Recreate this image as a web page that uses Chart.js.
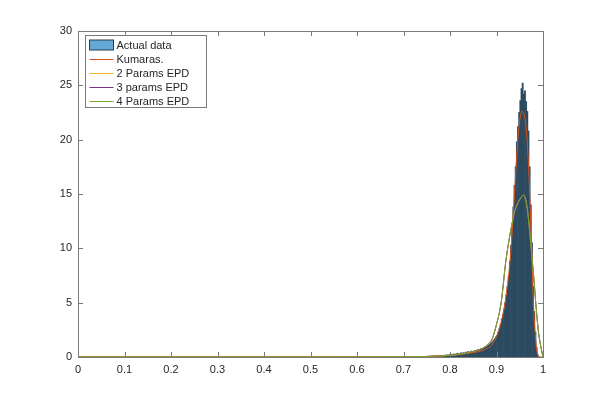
<!DOCTYPE html>
<html>
<head>
<meta charset="utf-8">
<title>Histogram and fitted densities</title>
<script src="https://cdn.jsdelivr.net/npm/chart.js@4.4.1/dist/chart.umd.min.js"></script>
<style>
  html, body { margin: 0; padding: 0; background: #fff; overflow: hidden; }
  #wrap { width: 601px; height: 401px; }
</style>
</head>
<body>
<div id="wrap"><canvas id="chartHist" width="601" height="401"></canvas></div>
<script>
// ---- data ----
const binStart = 0.75;
const binWidth = 0.0025;
// histogram heights (density), one per bin from 0.75 to 0.99
const histValues = [
    0.05, 0.08, 0.04, 0.10, 0.06, 0.09, 0.12, 0.07, 0.10, 0.08,
    0.13, 0.10, 0.15, 0.09, 0.12, 0.18, 0.14, 0.20, 0.16, 0.22,
    0.20, 0.25, 0.18, 0.30, 0.22, 0.28, 0.35, 0.25, 0.30, 0.38,
    0.32, 0.40, 0.35, 0.45, 0.38, 0.50, 0.42, 0.48, 0.55, 0.50,
    0.55, 0.60, 0.58, 0.65, 0.70, 0.66, 0.75, 0.80, 0.78, 0.85,
    0.90, 0.95, 1.05, 1.10, 1.20, 1.30, 1.40, 1.55, 1.70, 1.85,
    2.00, 2.30, 2.60, 3.00, 3.50, 3.90, 4.40, 5.00, 5.70, 6.50,
    7.50, 8.80, 10.3, 12.0, 13.8, 15.8, 17.5, 19.8, 21.2, 22.5,
    23.6, 24.7, 25.2, 24.2, 24.5, 23.5, 22.6, 20.8, 17.5, 14.0,
    10.5, 6.50, 4.20, 2.30, 0.90, 0.20
];

// fitted curves, sampled where they could be read
const kumX = [0, 0.5, 0.7, 0.8, 0.85, 0.87, 0.88, 0.89, 0.90, 0.91, 0.92, 0.93, 0.94, 0.945, 0.95, 0.955, 0.96, 0.965, 0.97, 0.975, 0.98, 0.985, 0.99, 1.0];
const kumY = [0, 0, 0.02, 0.15, 0.40, 0.60, 0.80, 1.10, 1.90, 3.20, 5.50, 9.30, 16.0, 19.5, 21.8, 22.6, 22.2, 20.5, 16.5, 10.5, 4.5, 1.2, 0.1, 0];

const epdX = [0, 0.5, 0.7, 0.8, 0.85, 0.87, 0.88, 0.89, 0.90, 0.91, 0.92, 0.93, 0.94, 0.95, 0.958, 0.965, 0.97, 0.975, 0.98, 0.984, 0.99, 0.997, 1.0];
const epd4Y = [0, 0, 0.03, 0.15, 0.50, 0.80, 1.10, 1.60, 3.00, 5.00, 8.80, 11.5, 13.5, 14.5, 14.9, 14.0, 12.2, 9.80, 7.40, 5.20, 2.40, 0.60, 0];
const epd2Y = [0, 0, 0.03, 0.15, 0.50, 0.80, 1.10, 1.60, 3.00, 5.00, 8.80, 11.5, 13.5, 14.5, 14.9, 14.0, 12.2, 9.80, 7.40, 5.20, 2.40, 0.60, 0];
const epd3Y = [0, 0, 0.03, 0.15, 0.50, 0.80, 1.10, 1.60, 3.00, 5.00, 8.80, 11.5, 13.5, 14.5, 14.9, 14.0, 12.2, 9.80, 7.40, 5.20, 2.40, 0.60, 0];

const seriesLabels = ['Actual data', 'Kumaras.', '2 Params EPD', '3 params EPD', '4 Params EPD'];
const xTicks = [0, 0.1, 0.2, 0.3, 0.4, 0.5, 0.6, 0.7, 0.8, 0.9, 1];
const yTicks = [0, 5, 10, 15, 20, 25, 30];

// colores estilo MATLAB
const colHist = '#2c4a60';
const colHistLegend = '#64a8d8';
const colKum = '#D95319';
const colEpd2 = '#EDB120';
const colEpd3 = '#7E2F8E';
const colEpd4 = '#77AC30';
const seriesColors = [colHistLegend, colKum, colEpd2, colEpd3, colEpd4];
const colAxis = '#7a7a7a';
const colText = '#262626';

function toPoints(xs, ys) {
    return xs.map((x, i) => ({ x: x, y: ys[i] }));
}

const histPoints = histValues.map((v, i) => ({ x: binStart + (i + 0.5) * binWidth, y: v }));

/**
 * Ticks hacia dentro y caja alrededor del área (como MATLAB)
 */
const boxTicksPlugin = {
    id: 'boxTicks',
    afterDatasetsDraw(chart) {
        const ctx = chart.ctx;
        const a = chart.chartArea;
        const xs = chart.scales.x;
        const ys = chart.scales.y;
        const len = 5;
        ctx.save();
        ctx.strokeStyle = colAxis;
        ctx.lineWidth = 1;
        ctx.beginPath();
        xTicks.forEach(t => {
            const px = Math.round(xs.getPixelForValue(t)) + 0.5;
            ctx.moveTo(px, a.bottom); ctx.lineTo(px, a.bottom - len);
            ctx.moveTo(px, a.top); ctx.lineTo(px, a.top + len);
        });
        yTicks.forEach(t => {
            const py = Math.round(ys.getPixelForValue(t)) + 0.5;
            ctx.moveTo(a.left, py); ctx.lineTo(a.left + len, py);
            ctx.moveTo(a.right, py); ctx.lineTo(a.right - len, py);
        });
        ctx.stroke();
        ctx.strokeRect(Math.round(a.left) + 0.5, Math.round(a.top) + 0.5,
            Math.round(a.right - a.left), Math.round(a.bottom - a.top));
        ctx.restore();
    }
};

/**
 * Leyenda dentro del área, arriba a la izquierda
 */
const innerLegendPlugin = {
    id: 'innerLegend',
    afterDraw(chart) {
        const ctx = chart.ctx;
        const a = chart.chartArea;
        const x0 = Math.round(a.left) + 7.5;
        const y0 = Math.round(a.top) + 4.5;
        const w = 121, h = 72, rowH = 14;
        ctx.save();
        ctx.fillStyle = '#fff';
        ctx.fillRect(x0, y0, w, h);
        ctx.strokeStyle = colAxis;
        ctx.lineWidth = 1;
        ctx.strokeRect(x0, y0, w, h);
        ctx.font = '11px "Liberation Sans", Arial, sans-serif';
        ctx.textBaseline = 'middle';
        seriesLabels.forEach((label, i) => {
            const cy = y0 + 9.5 + i * rowH;
            if (i === 0) {
                ctx.fillStyle = seriesColors[0];
                ctx.fillRect(x0 + 4, cy - 5, 24, 10);
                ctx.strokeStyle = '#2b3d4a';
                ctx.strokeRect(x0 + 4, cy - 5, 24, 10);
            } else {
                ctx.strokeStyle = seriesColors[i];
                ctx.beginPath();
                ctx.moveTo(x0 + 4, Math.round(cy) + 0.5);
                ctx.lineTo(x0 + 28, Math.round(cy) + 0.5);
                ctx.stroke();
            }
            ctx.fillStyle = colText;
            ctx.fillText(label, x0 + 31, cy + 0.5);
        });
        ctx.restore();
    }
};

function lineSet(label, xs, ys, color, order) {
    return {
        type: 'line',
        label: label,
        data: toPoints(xs, ys),
        borderColor: color,
        backgroundColor: color,
        borderWidth: 1,
        pointRadius: 0,
        fill: false,
        tension: 0.4,
        cubicInterpolationMode: 'monotone',
        order: order
    };
}

const ctx = document.getElementById('chartHist');
const chartHist = new Chart(ctx, {
    type: 'bar',
    data: {
        datasets: [
            {
                type: 'bar',
                label: seriesLabels[0],
                data: histPoints,
                backgroundColor: colHist,
                borderWidth: 0,
                barPercentage: 1,
                categoryPercentage: 1,
                order: 5
            },
            lineSet(seriesLabels[1], kumX, kumY, colKum, 1),
            lineSet(seriesLabels[2], epdX, epd2Y, colEpd2, 4),
            lineSet(seriesLabels[3], epdX, epd3Y, colEpd3, 3),
            lineSet(seriesLabels[4], epdX, epd4Y, colEpd4, 0)
        ]
    },
    options: {
        responsive: false,
        animation: false,
        layout: { padding: { left: 0, top: 31, right: 58, bottom: 0 } },
        plugins: {
            legend: { display: false },
            tooltip: { enabled: false }
        },
        scales: {
            x: {
                type: 'linear',
                min: 0,
                max: 1,
                offset: false,
                grid: { display: false, drawTicks: false, offset: false },
                border: { display: false },
                afterFit(scale) { scale.height = 44; },
                afterBuildTicks(scale) { scale.ticks = xTicks.map(v => ({ value: v })); },
                ticks: {
                    color: colText,
                    font: { family: '"Liberation Sans", Arial, sans-serif', size: 11 },
                    padding: 6,
                    maxRotation: 0,
                    autoSkip: false,
                    callback: v => String(+v.toFixed(1))
                }
            },
            y: {
                min: 0,
                max: 30,
                grid: { display: false, drawTicks: false },
                border: { display: false },
                afterFit(scale) { scale.width = 78; },
                afterBuildTicks(scale) { scale.ticks = yTicks.map(v => ({ value: v })); },
                ticks: {
                    color: colText,
                    font: { family: '"Liberation Sans", Arial, sans-serif', size: 11 },
                    padding: 6,
                    autoSkip: false
                }
            }
        }
    },
    plugins: [boxTicksPlugin, innerLegendPlugin]
});
</script>
</body>
</html>
